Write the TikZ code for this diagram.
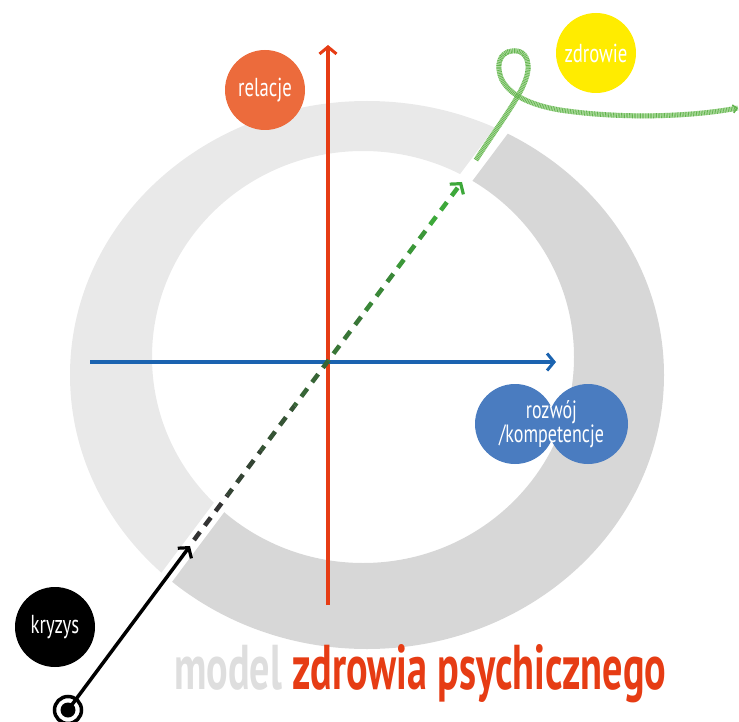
\documentclass[tikz,border=0pt]{standalone}
\usepackage{fontspec}
\usepackage{graphicx}
\usepackage{tikz}
\usetikzlibrary{
	arrows.meta,
	calc,
	positioning
}
\newfontfamily\labelfont{PT Sans}[FakeStretch=0.72]
\newfontfamily\titlefont{PT Sans}
\definecolor{ringlight}{HTML}{E9E9E9}
\definecolor{ringdark}{HTML}{D7D7D7}
\definecolor{axisred}{HTML}{E63C14}
\definecolor{axisblue}{HTML}{1B63B0}
\definecolor{reldot}{HTML}{EC6B3C}
\definecolor{healthdot}{HTML}{FFEC00}
\definecolor{growdot}{HTML}{4A7CC0}
\definecolor{titlegray}{HTML}{DEDEDE}
\definecolor{pathgreen}{HTML}{3DA83A}
\definecolor{pathdark}{HTML}{333333}
\definecolor{ropelight}{HTML}{B8E0AA}
\definecolor{ropedark}{HTML}{62B44E}
\tikzset{
	axis/.style={
		line width=3.5pt,
		-{Straight Barb[length=7pt,width=17pt,line width=3pt]}
	},
	dot/.style={
		circle,
		minimum size=80pt,
		inner sep=0pt,
		text=white,
		font=\labelfont\fontsize{26}{20}\selectfont
	},
	dashline/.style={
		line width=4.5pt,
		dash pattern=on 10pt off 8pt
	},
	rope/.style={
		line width=5pt
	}
}

\begin{document}
\begin{tikzpicture}[x=1pt,y=-1pt]
	\useasboundingbox (0,0) rectangle (739,722);

	\coordinate (O)          at (328,362);
	\coordinate (relTop)     at (328,45);
	\coordinate (relBot)     at (328,605);
	\coordinate (devLeft)    at (90,362);
	\coordinate (devRight)   at (556,362);
	\coordinate (crisisTip)  at (190,546);
	\coordinate (dashStart)  at (194,540);
	\coordinate (healthTip)  at (462,182);
	\coordinate (ropeStart)  at (476,160);
	\coordinate (ropeEnd)    at (738,108);
	\coordinate (growC)      at (551.5,424);

	% ring, split along the path
	\begin{scope}
		\clip (742.2,-202.6) -- (-97.4,918.2) -- (-657.8,498.4) -- (181.8,-622.4) -- cycle;
		\fill[ringlight,even odd rule]
			(367,375) ellipse [x radius=297,y radius=274]
			(363,357) ellipse [x radius=211,y radius=206];
	\end{scope}
	\begin{scope}
		\clip (753.4,-194.2) -- (-86.2,926.6) -- (474.2,1346.4) -- (1313.8,225.6) -- cycle;
		\fill[ringdark,even odd rule]
			(367,375) ellipse [x radius=297,y radius=274]
			(363,357) ellipse [x radius=211,y radius=206];
	\end{scope}

	\draw[rope,ropelight]
		(ropeStart) .. controls (505,115) and (530,85) .. (528,65)
		.. controls (527,52) and (518,50) .. (512,51)
		.. controls (500,52) and (495,65) .. (502,80)
		.. controls (510,95) and (530,105) .. (560,110)
		.. controls (620,119) and (690,117) .. (ropeEnd);
	\draw[rope,ropedark,dash pattern=on 0.7pt off 0.9pt,
		-{Straight Barb[length=4pt,width=8pt,line width=1.5pt]}]
		(ropeStart) .. controls (505,115) and (530,85) .. (528,65)
		.. controls (527,52) and (518,50) .. (512,51)
		.. controls (500,52) and (495,65) .. (502,80)
		.. controls (510,95) and (530,105) .. (560,110)
		.. controls (620,119) and (690,117) .. (ropeEnd);

	\draw[axis,axisred]  (relBot)  -- (relTop);
	\draw[axis,axisblue] (devLeft) -- (devRight);

	\foreach \i in {0,...,6}{
		\pgfmathsetmacro\mix{100*\i/7}
		\draw[dashline,color=pathgreen!\mix!pathdark,dash phase=\i*56.2pt]
			($(dashStart)!\i/8!(healthTip)$) -- ($(dashStart)!\i/8+1/8!(healthTip)$);
	}
	\draw[dashline,pathgreen,dash phase=393.4pt,
		-{Straight Barb[length=7pt,width=17pt,line width=3.2pt]}]
		($(dashStart)!7/8!(healthTip)$) -- (healthTip);

	\node[circle,draw,line width=3.5pt,minimum size=27pt,inner sep=0pt] (start) at (68,710) {};
	\fill (start.center) circle (7.5);
	\draw[line width=3.5pt,-{Straight Barb[length=7pt,width=17pt,line width=3.2pt]}]
		(start.center) -- (crisisTip);

	\node[dot,fill=reldot]    (relacje) at (265,90)  {relacje};
	\node[dot,fill=healthdot] (zdrowie) at (596,53)  {zdrowie};
	\node[dot,fill=black]     (kryzys)  at (55,627)  {kryzys};
	\fill[growdot] ([xshift=-36.5pt]growC) circle (40)
		([xshift=36.5pt]growC) circle (40);
	\node[align=center,text=white,font=\labelfont\fontsize{25}{20}\selectfont]
		(rozwoj) at (growC) {rozwój\\/kompetencje};

	\node[anchor=base west,inner sep=0pt] (title) at (174,689)
		{\resizebox{492pt}{45pt}{\titlefont\bfseries\textcolor{titlegray}{model} \textcolor{axisred}{zdrowia psychicznego}}};
\end{tikzpicture}
\end{document}
